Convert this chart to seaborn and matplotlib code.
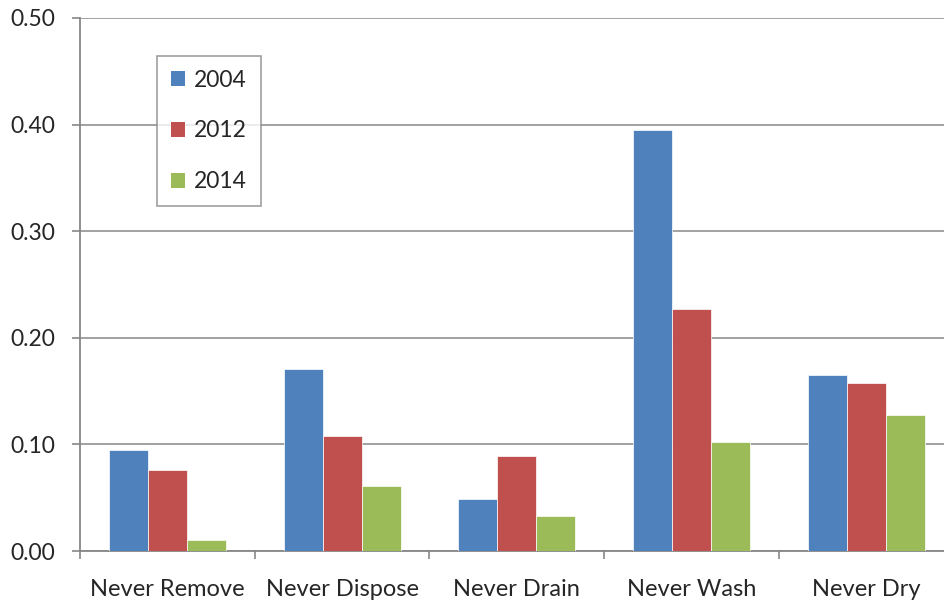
import matplotlib
matplotlib.use("Agg")
import matplotlib.pyplot as plt
import seaborn as sns
import pandas as pd
import numpy as np
from matplotlib.ticker import FixedLocator, MultipleLocator

categories = ["Never Remove", "Never Dispose", "Never Drain", "Never Wash", "Never Dry"]
years = ["2004", "2012", "2014"]
vals_2004 = [0.095, 0.171, 0.049, 0.395, 0.165]
vals_2012 = [0.076, 0.108, 0.089, 0.227, 0.158]
vals_2014 = [0.010, 0.061, 0.033, 0.102, 0.128]
colors = ["#4F81BD", "#C0504D", "#9BBB59"]

rows = []
for y, vals in zip(years, [vals_2004, vals_2012, vals_2014]):
    for c, v in zip(categories, vals):
        rows.append({"category": c, "year": y, "value": v})
df = pd.DataFrame(rows)

sns.set_style("white")
plt.rcParams["font.family"] = ["Lato", "DejaVu Sans"]

fig = plt.figure(figsize=(9.44, 6.03), dpi=100)
ax = fig.add_axes([0.0847, 0.0862, 0.9256, 0.884])

sns.barplot(data=df, x="category", y="value", hue="year", hue_order=years,
            order=categories, palette=colors, saturation=1, width=0.67,
            edgecolor="white", linewidth=0.5, ax=ax, zorder=3)

grid_c = "#878787"
ax.set_ylim(0, 0.5)
ax.set_xlim(-0.5, 4.5)
ax.yaxis.set_major_locator(MultipleLocator(0.1))
ax.set_yticklabels([f"{t:.2f}" for t in ax.get_yticks()])
ax.grid(axis="y", color=grid_c, linewidth=1.1, zorder=0)
ax.set_axisbelow(True)
ax.set_xlabel("")
ax.set_ylabel("")

for s in ["top", "right"]:
    ax.spines[s].set_visible(False)
for s in ["left", "bottom"]:
    ax.spines[s].set_color(grid_c)
    ax.spines[s].set_linewidth(1.3)

ax.tick_params(axis="y", which="major", length=6, width=1.2, color=grid_c,
               labelsize=16.5, pad=12, direction="out", left=True)
ax.tick_params(axis="x", which="major", length=0, labelsize=17, pad=20)
ax.xaxis.set_minor_locator(FixedLocator(np.arange(-0.5, 5.0, 1.0)))
ax.tick_params(axis="x", which="minor", length=6, width=1.2, color=grid_c,
               direction="out", bottom=True)

leg = ax.legend(loc="upper left", bbox_to_anchor=(0.088, 0.929), borderaxespad=0,
                fontsize=16.5, handlelength=0.62, handleheight=0.62,
                handletextpad=0.4, labelspacing=1.3, borderpad=0.6,
                frameon=True, fancybox=False, shadow=False)
leg.get_frame().set_edgecolor(grid_c)
leg.get_frame().set_linewidth(1.2)
for h in leg.legend_handles:
    h.set_edgecolor("none")

fig.savefig("out.png", dpi=100)
